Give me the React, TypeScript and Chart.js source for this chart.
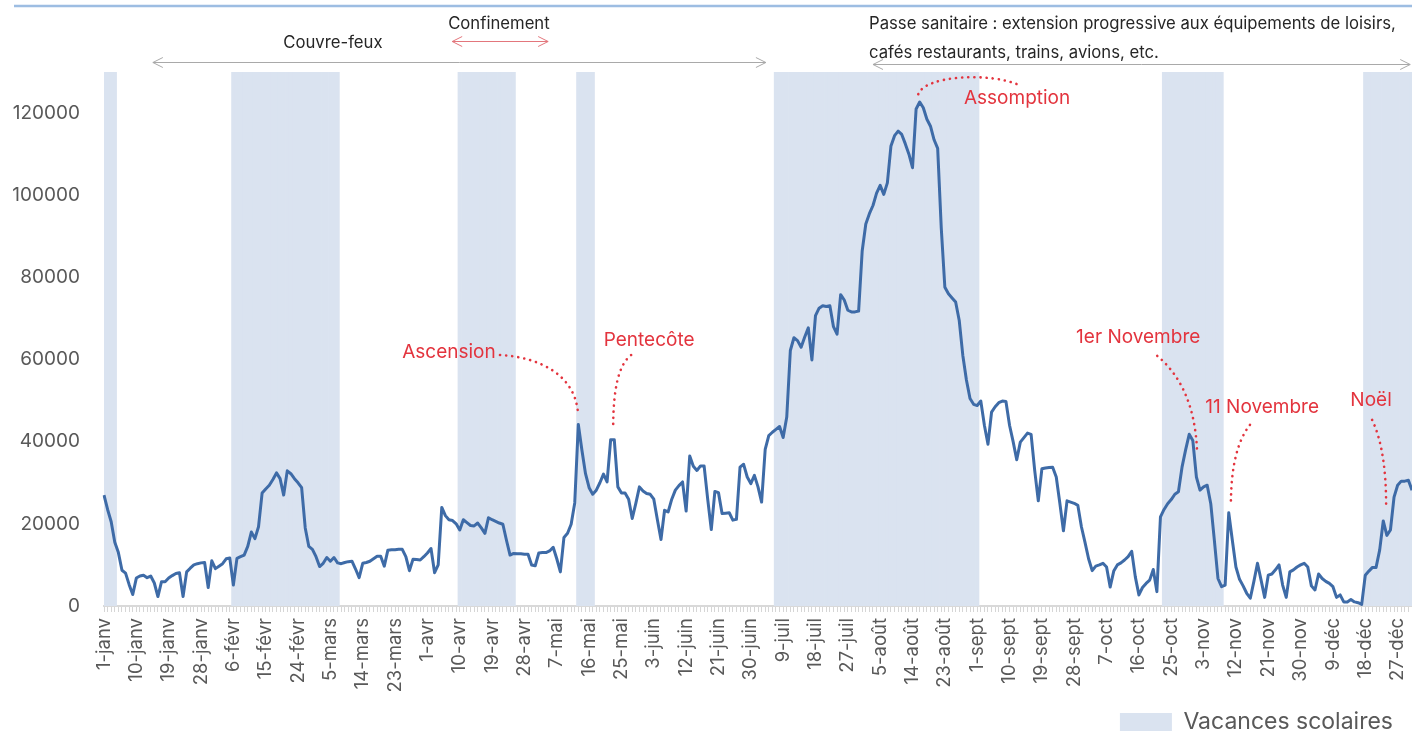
import React, { useEffect, useRef } from "react";
import { Chart, registerables } from "chart.js";

Chart.register(...registerables);

const FONT = "Inter";

// ---- tick labels (daily, 2021) ----
const monthNames = ["janv", "févr", "mars", "avr", "mai", "juin", "juil", "août", "sept", "oct", "nov", "déc"];
const monthLengths = [31, 28, 31, 30, 31, 30, 31, 31, 30, 31, 30, 31];
const labelStep = 9;

const dayLabels: string[] = [];
monthLengths.forEach((len, m) => {
  for (let d = 1; d <= len; d++) dayLabels.push(`${d}-${monthNames[m]}`);
});

// ---- daily values ----
const dailyValues = [
  27000, 23500, 20500, 15500, 13000, 8700, 8000, 5200, 2800, 6800,
  7300, 7500, 6900, 7300, 5600, 2300, 5900, 5900, 6800, 7400,
  7900, 8100, 2300, 8300, 9200, 10000, 10300, 10500, 10600, 4500,
  11000, 9100, 9700, 10300, 11500, 11700, 5100, 11600, 12000, 12400,
  14500, 18000, 16400, 19300, 27500, 28500, 29400, 30800, 32400, 31000,
  27000, 32900, 32200, 31000, 30000, 28800, 19000, 14500, 13800, 12000,
  9600, 10400, 11800, 10900, 11800, 10500, 10300, 10600, 10800, 10900,
  9000, 6900, 10400, 10600, 10900, 11500, 12100, 12100, 9700, 13600,
  13700, 13700, 13800, 13800, 12000, 8600, 11400, 11300, 11200, 12000,
  12900, 14000, 8100, 10000, 24000, 22000, 21000, 20800, 20000, 18500,
  21000, 20300, 19600, 19500, 20200, 19000, 17700, 21500, 21000, 20600,
  20200, 19900, 16000, 12400, 12800, 12700, 12700, 12600, 12600, 10000,
  9800, 12900, 13000, 13000, 13400, 14300, 11500, 8300, 16700, 17700,
  19900, 25100, 44200, 37900, 32200, 28800, 27200, 28200, 30000, 32100,
  30200, 40500, 40500, 29000, 27500, 27500, 26000, 21300, 25000, 29000,
  28000, 27400, 27200, 26000, 21000, 16200, 23300, 22900, 26000, 28200,
  29300, 30200, 23100, 36500, 34000, 33000, 34100, 34100, 26000, 18600,
  27900, 27600, 22500, 22600, 22700, 20900, 21100, 33800, 34500, 31400,
  29800, 31800, 29000, 25300, 38100, 41500, 42300, 43000, 43700, 41000,
  46000, 62200, 65300, 64600, 63000, 65500, 67700, 59900, 70700, 72500,
  73100, 72900, 73100, 68000, 66200, 75800, 74500, 72000, 71600, 71600,
  71800, 86500, 93000, 95500, 97500, 100500, 102400, 100200, 103000, 112000,
  114500, 115600, 114800, 112500, 110000, 106700, 121000, 122700, 121300, 118500,
  116800, 113500, 111400, 92000, 77600, 76000, 75000, 74000, 69500, 61000,
  55000, 50500, 49100, 48800, 49900, 44000, 39400, 47200, 48500, 49500,
  49900, 49800, 44000, 40000, 35600, 39900, 41000, 42100, 41800, 33000,
  25600, 33400, 33600, 33700, 33800, 31400, 25000, 18300, 25600, 25300,
  25000, 24500, 19300, 15500, 11500, 8600, 9700, 10000, 10400, 9500,
  4600, 8500, 10000, 10500, 11200, 12000, 13300, 7100, 2700, 4500,
  5500, 6300, 8900, 3500, 21700, 23500, 24900, 25900, 27200, 27800,
  33800, 38000, 41800, 40300, 31400, 28200, 29000, 29400, 24900, 16000,
  6700, 4700, 5100, 22700, 16000, 9500, 6500, 4900, 3100, 1900,
  6000, 10400, 6300, 2100, 7500, 7800, 8800, 10000, 5100, 2100,
  8300, 8800, 9500, 10000, 10400, 9500, 4900, 3900, 7800, 6700,
  6000, 5500, 4700, 2100, 2700, 1000, 1000, 1600, 1000, 800,
  400, 7500, 8500, 9400, 9400, 13600, 20700, 17200, 18500, 26500,
  29400, 30400, 30400, 30600, 28200,
];

// ---- school holidays (day index, inclusive) ----
const vacationStarts = [0, 36, 99, 132, 187, 295, 351];
const vacationEnds = [3, 65, 114, 136, 243, 311, 364];
const vacationLevel = 130000;

// ---- axis ----
const yMax = 130000;
const yTickValues = [0, 20000, 40000, 60000, 80000, 100000, 120000];

// ---- annotations (day index / value) ----
const periodArrows = [
  { from: 13.6, to: 184.2, value: 132400, color: "#a9a9a9" },
  { from: 96.9, to: 123.6, value: 137500, color: "#e3767c" },
  { from: 214.0, to: 363.5, value: 132000, color: "#a9a9a9" },
];
const periodTexts = [
  { text: "Couvre-feux", day: 63.7, value: 137000, align: "center" },
  { text: "Confinement", day: 109.9, value: 141700, align: "center" },
  { text: "Passe sanitaire : extension progressive aux équipements de loisirs,", day: 212.9, value: 141700, align: "left" },
  { text: "cafés restaurants, trains, avions, etc.", day: 212.9, value: 134600, align: "left" },
];
const holidayNames = ["Ascension", "Pentecôte", "Assomption", "1er Novembre", "11 Novembre", "Noël"];
const holidayLabelAt = [
  [96.0, 61800], [151.7, 64800], [254.1, 123700], [287.8, 65500], [322.3, 48400], [352.6, 50200],
];
const holidayCurves = [
  [[110.2, 61100], [121.3, 60600], [131.1, 56200], [131.9, 47000]],
  [[146.7, 61100], [143.1, 58700], [141.7, 52600], [141.7, 43300]],
  [[226.6, 124600], [228.5, 129200], [246.6, 130000], [254.7, 126800]],
  [[293.1, 60900], [299.5, 56200], [303.7, 48900], [304.2, 37500]],
  [[318.9, 44100], [315.6, 40400], [313.6, 34300], [313.6, 24600]],
  [[352.9, 45300], [355.6, 40400], [356.8, 33100], [356.8, 24600]],
];

const vacationData = dayLabels.map((_, i) =>
  vacationStarts.some((s, k) => i >= s && i <= vacationEnds[k]) ? vacationLevel : null
);

const annotationPlugin = {
  id: "annotations",
  afterDatasetsDraw(chart: any) {
    const ctx = chart.ctx as CanvasRenderingContext2D;
    const xs = chart.scales.x;
    const ys = chart.scales.y;
    const X = (d: number) => xs.getPixelForValue(d);
    const Y = (v: number) => ys.getPixelForValue(v);
    ctx.save();

    // top rule
    ctx.strokeStyle = "#9dbde2";
    ctx.lineWidth = 2.5;
    ctx.beginPath();
    ctx.moveTo(14, 6);
    ctx.lineTo(chart.width, 6);
    ctx.stroke();

    // period arrows
    periodArrows.forEach((a) => {
      const x1 = X(a.from), x2 = X(a.to), y = Math.round(Y(a.value)) + 0.5;
      ctx.strokeStyle = a.color;
      ctx.lineWidth = 1;
      ctx.beginPath();
      ctx.moveTo(x1, y);
      ctx.lineTo(x2, y);
      ctx.moveTo(x1 + 10, y - 5);
      ctx.lineTo(x1, y);
      ctx.lineTo(x1 + 10, y + 5);
      ctx.moveTo(x2 - 10, y - 5);
      ctx.lineTo(x2, y);
      ctx.lineTo(x2 - 10, y + 5);
      ctx.stroke();
    });

    // period texts
    ctx.fillStyle = "#262626";
    ctx.font = `16.7px ${FONT}`;
    ctx.textBaseline = "middle";
    periodTexts.forEach((t) => {
      ctx.textAlign = t.align as CanvasTextAlign;
      ctx.fillText(t.text, X(t.day), Y(t.value));
    });

    // holiday call-outs
    ctx.strokeStyle = "#e3343e";
    ctx.lineWidth = 2.6;
    ctx.lineCap = "round";
    ctx.setLineDash([0.1, 6]);
    holidayCurves.forEach((c) => {
      ctx.beginPath();
      ctx.moveTo(X(c[0][0]), Y(c[0][1]));
      ctx.bezierCurveTo(X(c[1][0]), Y(c[1][1]), X(c[2][0]), Y(c[2][1]), X(c[3][0]), Y(c[3][1]));
      ctx.stroke();
    });
    ctx.setLineDash([]);
    ctx.fillStyle = "#e3343e";
    ctx.font = `19px ${FONT}`;
    ctx.textAlign = "center";
    holidayNames.forEach((n, i) => {
      ctx.fillText(n, X(holidayLabelAt[i][0]), Y(holidayLabelAt[i][1]));
    });

    ctx.restore();
  },
};

export default function App() {
  const ref = useRef<HTMLCanvasElement | null>(null);

  useEffect(() => {
    if (!ref.current) return;
    Chart.defaults.font.family = FONT;
    const chart = new Chart(ref.current, {
      type: "line",
      data: {
        labels: dayLabels,
        datasets: [
          {
            type: "bar",
            label: "Vacances scolaires",
            data: vacationData as any,
            backgroundColor: "#dae3f0",
            borderWidth: 0,
            barPercentage: 1,
            categoryPercentage: 1,
            order: 2,
          } as any,
          {
            type: "line",
            label: "Fréquentation",
            data: dailyValues,
            borderColor: "#3e6ba7",
            borderWidth: 3,
            pointRadius: 0,
            tension: 0,
            borderJoinStyle: "round",
            fill: false,
            order: 1,
          } as any,
        ],
      },
      options: {
        responsive: false,
        animation: false,
        events: [],
        layout: { padding: { top: 72, right: 0, bottom: -12.5, left: 0 } },
        plugins: {
          tooltip: { enabled: false },
          legend: {
            display: true,
            position: "bottom",
            align: "end",
            labels: {
              boxWidth: 52,
              boxHeight: 18,
              padding: 19,
              color: "#595959",
              font: { family: FONT, size: 23 },
              filter: (item: any) => item.datasetIndex === 0,
            },
          },
        },
        scales: {
          x: {
            type: "category",
            offset: false,
            grid: {
              display: true,
              drawOnChartArea: false,
              drawTicks: true,
              tickLength: 6,
              color: "#d6d6d6",
              offset: false,
            },
            border: { display: true, color: "#d9d9d9", width: 2 },
            ticks: {
              autoSkip: false,
              minRotation: 90,
              maxRotation: 90,
              padding: 6,
              color: "#595959",
              font: { family: FONT, size: 18.5 },
              callback: (_v: any, i: number) => (i % labelStep === 0 ? dayLabels[i] : ""),
            },
            afterFit: (s: any) => {
              s.height = 85.5;
              s.paddingLeft = 0;
              s.paddingRight = 0;
            },
          },
          y: {
            type: "linear",
            min: 0,
            max: yMax,
            grid: { display: false, drawTicks: false },
            border: { display: false },
            ticks: {
              padding: 24,
              color: "#595959",
              font: { family: FONT, size: 19 },
              callback: (v: any) => String(v),
            },
            afterBuildTicks: (s: any) => {
              s.ticks = yTickValues.map((v) => ({ value: v }));
            },
            afterFit: (s: any) => {
              s.width = 104;
              s.paddingTop = 0;
              s.paddingBottom = 0;
            },
          },
        },
      },
      plugins: [annotationPlugin],
    });
    return () => chart.destroy();
  }, []);

  return (
    <div style={{ position: "absolute", left: 0, top: 0, width: 1412, height: 731, background: "#fff", overflow: "hidden" }}>
      <canvas ref={ref} width={1412} height={731} style={{ display: "block" }} />
    </div>
  );
}
